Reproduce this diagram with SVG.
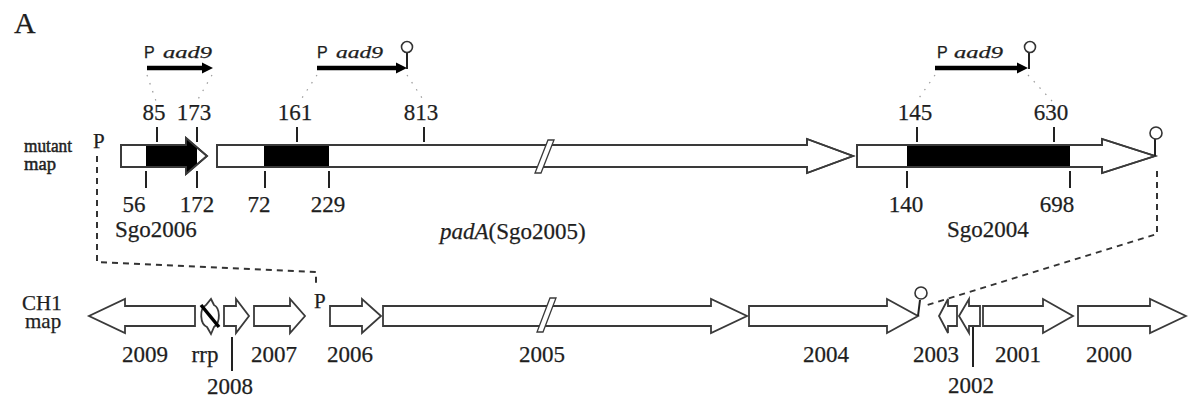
<svg xmlns="http://www.w3.org/2000/svg" width="1188" height="398" viewBox="0 0 1188 398">
  <style>
    text { font-family: "Liberation Serif", "Times New Roman", serif; fill: #1e1e1e; stroke: #1e1e1e; stroke-width: 0.25; }
    .num { font-size: 23px; text-anchor: middle; }
    .lbl { font-size: 23px; }
    .side { font-size: 19px; stroke-width: 0.5; }
    .gene { fill: #ffffff; stroke: #3a3a3a; stroke-width: 1.8; stroke-linejoin: miter; }
    .outline { fill: none; stroke: #3a3a3a; stroke-width: 1.8; }
    .blk { fill: #000000; }
    .tick { stroke: #222; stroke-width: 2; }
    .dash { fill: none; stroke: #333; stroke-width: 2; stroke-dasharray: 6 5; }
    .dot { fill: none; stroke: #9a9a9a; stroke-width: 1.2; stroke-dasharray: 1.5 7; }
    .cas { stroke: #000; stroke-width: 4.5; fill: none; }
    .term { fill: #fff; stroke: #333; stroke-width: 1.6; }
    .stem { stroke: #222; stroke-width: 2; }
    .brk { fill: #fff; stroke: #3a3a3a; stroke-width: 1.3; }
    .pa { font-family: "Liberation Sans", Arial, sans-serif; font-size: 16px; }
    .it { font-style: italic; }
  </style>
  <defs>
    <clipPath id="clip2006"><rect x="146" y="130" width="51" height="50"/></clipPath>
  </defs>

  <text x="14" y="33" style="font-size:30px">A</text>

  <!-- aad9 cassettes inserted in the mutant -->
  <g id="cassette-1">
    <text class="pa" x="144" y="58">P</text>
    <text class="lbl it" x="163" y="58" style="font-size:17px" textLength="49" lengthAdjust="spacingAndGlyphs">aad9</text>
    <line class="cas" x1="147" y1="68" x2="204" y2="68"/>
    <polygon points="202,62.5 213,68 202,73.5" fill="#000"/>
  </g>
  <g id="cassette-2">
    <text class="pa" x="317" y="58">P</text>
    <text class="lbl it" x="336" y="58" style="font-size:17px" textLength="47" lengthAdjust="spacingAndGlyphs">aad9</text>
    <line class="cas" x1="317" y1="68" x2="398" y2="68"/>
    <polygon points="396,62.5 407,68 396,73.5" fill="#000"/>
    <line class="stem" x1="407" y1="69" x2="407" y2="53"/>
    <circle class="term" cx="407" cy="47" r="5.5"/>
  </g>
  <g id="cassette-3">
    <text class="pa" x="937" y="58">P</text>
    <text class="lbl it" x="954" y="58" style="font-size:17px" textLength="49" lengthAdjust="spacingAndGlyphs">aad9</text>
    <line class="cas" x1="935" y1="68" x2="1019" y2="68"/>
    <polygon points="1017,62.5 1028,68 1017,73.5" fill="#000"/>
    <line class="stem" x1="1029" y1="69" x2="1029" y2="53"/>
    <circle class="term" cx="1030" cy="47" r="5.5"/>
  </g>

  <!-- mutant map -->
  <g id="mutant-label">
    <text class="side" x="24" y="152" textLength="48" lengthAdjust="spacingAndGlyphs">mutant</text>
    <text class="side" x="24" y="170" textLength="32" lengthAdjust="spacingAndGlyphs">map</text>
    <text class="lbl" x="93" y="148" style="font-size:21px">P</text>
  </g>

  <g id="sgo2006">
    <path class="gene" d="M121,145 H186 V138 L207,156 L186,174 V167 H121 Z"/>
    <path class="blk" clip-path="url(#clip2006)" d="M121,145 H186 V138 L207,156 L186,174 V167 H121 Z"/>
    <path class="outline" d="M121,145 H186 V138 L207,156 L186,174 V167 H121 Z"/>
    <line class="tick" x1="157" y1="127" x2="157" y2="142"/>
    <line class="tick" x1="197" y1="127" x2="197" y2="142"/>
    <line class="tick" x1="146" y1="171" x2="146" y2="188"/>
    <line class="tick" x1="197" y1="171" x2="197" y2="188"/>
    <text class="num" x="154" y="120">85</text>
    <text class="num" x="194" y="120">173</text>
    <text class="num" x="134" y="212">56</text>
    <text class="num" x="197" y="212">172</text>
    <text class="lbl" x="115" y="237">Sgo2006</text>
  </g>

  <g id="padA">
    <path class="gene" d="M217,145 H807 V139 L853,156 L807,173 V167 H217 Z"/>
    <rect class="blk" x="264" y="145" width="65" height="22"/>
    <path class="outline" d="M217,145 H807 V139 L853,156 L807,173 V167 H217 Z"/>
    <polygon class="brk" points="535,173 541,173 554,140 548,140"/>
    <line class="tick" x1="297" y1="127" x2="297" y2="142"/>
    <line class="tick" x1="424" y1="127" x2="424" y2="142"/>
    <line class="tick" x1="265" y1="171" x2="265" y2="188"/>
    <line class="tick" x1="329" y1="171" x2="329" y2="188"/>
    <text class="num" x="295" y="120">161</text>
    <text class="num" x="421" y="120">813</text>
    <text class="num" x="259" y="212">72</text>
    <text class="num" x="328" y="212">229</text>
    <text class="lbl" x="440" y="239"><tspan class="it">padA</tspan>(Sgo2005)</text>
  </g>

  <g id="sgo2004">
    <path class="gene" d="M857,145 H1102 V139 L1155,156 L1102,173 V167 H857 Z"/>
    <rect class="blk" x="907" y="145" width="163" height="22"/>
    <path class="outline" d="M857,145 H1102 V139 L1155,156 L1102,173 V167 H857 Z"/>
    <line class="stem" x1="1155" y1="156" x2="1155" y2="139"/>
    <circle class="term" cx="1156" cy="133" r="6"/>
    <line class="tick" x1="917" y1="127" x2="917" y2="142"/>
    <line class="tick" x1="1054" y1="127" x2="1054" y2="142"/>
    <line class="tick" x1="907" y1="171" x2="907" y2="188"/>
    <line class="tick" x1="1070" y1="171" x2="1070" y2="188"/>
    <text class="num" x="915" y="120">145</text>
    <text class="num" x="1051" y="120">630</text>
    <text class="num" x="906" y="212">140</text>
    <text class="num" x="1057" y="212">698</text>
    <text class="lbl" x="947" y="237">Sgo2004</text>
  </g>

  <!-- connectors -->
  <g id="connectors">
    <path class="dot" d="M147,75 L156,101"/>
    <path class="dot" d="M212,75 L197,101"/>
    <path class="dot" d="M317,75 L300,101"/>
    <path class="dot" d="M407,75 L424,101"/>
    <path class="dot" d="M935,75 L917,101"/>
    <path class="dot" d="M1028,75 L1052,101"/>
    <path class="dash" d="M97,156 V262 L316,272 V286"/>
    <path class="dash" d="M1157,171 V234 L924,306"/>
  </g>

  <!-- CH1 map -->
  <g id="ch1-label">
    <text class="lbl" x="22" y="310" style="font-size:21px">CH1</text>
    <text class="lbl" x="25" y="328" style="font-size:21px">map</text>
    <text class="lbl" x="314" y="308" style="font-size:21px">P</text>
  </g>

  <g id="g2009">
    <path class="gene" d="M195,306 H125 V299 L89,316 L125,333 V326 H195 Z"/>
    <text class="num" x="145" y="362">2009</text>
  </g>
  <g id="rrp">
    <path class="gene" d="M211,299 L214,305 C220,308 221,322 214,327 L211,334 L207,327 C200,324 199,309 206,305 Z"/>
    <line x1="201" y1="305" x2="219" y2="327" stroke="#000" stroke-width="3.5"/>
    <text class="num" x="205" y="362">rrp</text>
  </g>
  <g id="g2008">
    <path class="gene" d="M224,306 H236 V299 L249,316 L236,333 V326 H224 Z"/>
    <line class="tick" x1="232" y1="337" x2="232" y2="371"/>
    <text class="num" x="230" y="394">2008</text>
  </g>
  <g id="g2007">
    <path class="gene" d="M254,306 H290 V299 L305,316 L290,333 V326 H254 Z"/>
    <text class="num" x="274" y="362">2007</text>
  </g>
  <g id="g2006">
    <path class="gene" d="M330,306 H362 V299 L381,316 L362,333 V326 H330 Z"/>
    <text class="num" x="350" y="362">2006</text>
  </g>
  <g id="g2005">
    <path class="gene" d="M383,306 H711 V299 L747,316 L711,333 V326 H383 Z"/>
    <polygon class="brk" points="537,332 543,332 556,298 550,298"/>
    <text class="num" x="542" y="362">2005</text>
  </g>
  <g id="g2004">
    <path class="gene" d="M749,306 H887 V299 L918,316 L887,333 V326 H749 Z"/>
    <line class="stem" x1="918" y1="316" x2="920" y2="300"/>
    <circle class="term" cx="921" cy="293" r="6"/>
    <text class="num" x="826" y="362">2004</text>
  </g>
  <g id="g2003">
    <path class="gene" d="M957,306 H948 V299 L939,316 L948,333 V326 H957 Z"/>
    <text class="num" x="936" y="362">2003</text>
  </g>
  <g id="g2002">
    <path class="gene" d="M980,306 H969 V299 L959,316 L969,333 V326 H980 Z"/>
    <line class="tick" x1="973" y1="327" x2="973" y2="367"/>
    <text class="num" x="971" y="393">2002</text>
  </g>
  <g id="g2001">
    <path class="gene" d="M983,306 H1043 V299 L1073,316 L1043,333 V326 H983 Z"/>
    <text class="num" x="1018" y="362">2001</text>
  </g>
  <g id="g2000">
    <path class="gene" d="M1078,306 H1150 V299 L1186,316 L1150,333 V326 H1078 Z"/>
    <text class="num" x="1109" y="362">2000</text>
  </g>
</svg>
